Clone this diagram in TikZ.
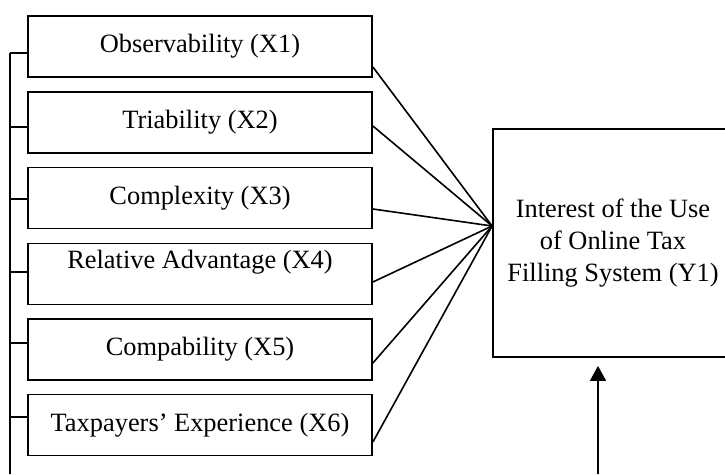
\documentclass[tikz,border=0pt]{standalone}
\usepackage{fontspec}
\setmainfont{Liberation Serif}
\usetikzlibrary{arrows.meta}

\begin{document}
\begin{tikzpicture}[x=1pt, y=-1pt,
        factor/.style={draw, rectangle, line width=1.8pt, minimum width=344pt, minimum height=61pt, inner sep=0pt},
        link/.style={line width=1.6pt},
        font=\fontsize{26.4}{32}\selectfont]
            \useasboundingbox (0,0) rectangle (725,474);

            \node[factor] (obs) at (200,46.5) {Observability (X1)};
            \node[factor] (tri) at (200,122.5) {Triability (X2)};
            \node[factor] (cpx) at (200,198) {Complexity (X3)};
            \node[factor, text depth=30pt] (adv) at (200,274) {Relative Advantage (X4)};
            \node[factor] (cmp) at (200,349.5) {Compability (X5)};
            \node[factor] (exp) at (200,425) {Taxpayers’ Experience (X6)};
            \node[draw, rectangle, line width=1.8pt, minimum width=240pt, minimum height=228pt, align=center] (res) at (613,243) {Interest of the Use\\of Online Tax\\Filling System (Y1)};

            % bracket on the left
            \coordinate (top) at (10,53);
            \coordinate (end) at (10,474);
            \draw[link] (top) -- (end);
            \draw[link] (top) -- (obs.west |- top);
            \draw[link] ([yshift=-4.5pt]tri.west) -- +(-18,0);
            \draw[link] ([yshift=-1pt]cpx.west) -- +(-18,0);
            \draw[link] ([yshift=2pt]adv.west) -- +(-18,0);
            \draw[link] ([yshift=6.5pt]cmp.west) -- +(-18,0);
            \draw[link] ([yshift=8pt]exp.west) -- +(-18,0);

            % all factors meet on the result box
            \coordinate (hub) at ([yshift=17pt]res.west);
            \draw[link] ([yshift=-20.5pt]obs.east) -- (hub);
            \draw[link] ([yshift=-3.5pt]tri.east) -- (hub);
            \draw[link] ([yshift=-11pt]cpx.east) -- (hub);
            \draw[link] ([yshift=-8pt]adv.east) -- (hub);
            \draw[link] ([yshift=-13.5pt]cmp.east) -- (hub);
            \draw[link] ([yshift=-17pt]exp.east) -- (hub);

            \coordinate (base) at (598,474);
            \draw[link, -{Triangle[length=15pt, width=16pt]}, shorten >=8pt] (base) -- (base |- res.south);
        \end{tikzpicture}
\end{document}
